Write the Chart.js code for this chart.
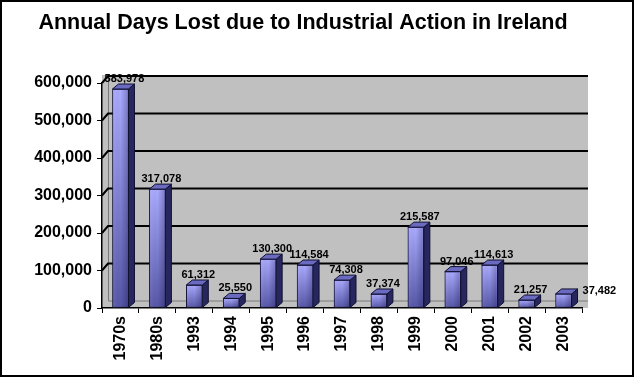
<!DOCTYPE html>
<html>
<head>
<meta charset="utf-8">
<script src="https://cdn.jsdelivr.net/npm/chart.js@4"></script>
<style>
html,body{margin:0;padding:0;background:#fff;}
#wrap{width:634px;height:377px;position:relative;}
</style>
</head>
<body>
<div id="wrap"><canvas id="c" width="634" height="377"></canvas></div>
<script>
const chartTitle = "Annual Days Lost due to Industrial Action in Ireland";
const categories = ["1970s","1980s","1993","1994","1995","1996","1997","1998","1999","2000","2001","2002","2003"];
const daysLost = [583978,317078,61312,25550,130300,114584,74308,37374,215587,97046,114613,21257,37482];
const yTicks = [0,100000,200000,300000,400000,500000,600000];

const DX = 6, DY = 5;       // 3D depth offsets
const WALL_DX = 6, WALL_DY = 7;
const FONT = '"Liberation Sans", Arial, sans-serif';

const fmt = v => v.toLocaleString('en-US');

const bgPlugin = {
  id: 'bg',
  beforeDraw(chart) {
    const {ctx, chartArea: a, scales} = chart;
    ctx.save();
    ctx.fillStyle = '#fff';
    ctx.fillRect(0, 0, chart.width, chart.height);
    ctx.fillStyle = '#C0C0C0';
    ctx.fillRect(a.left, a.top - WALL_DY - 1, a.right - a.left + WALL_DX, a.bottom - a.top + WALL_DY + 1);
    ctx.strokeStyle = '#7A7A7A';
    ctx.lineWidth = 1;
    ctx.beginPath();
    ctx.moveTo(a.left + WALL_DX + 0.5, a.top - WALL_DY);
    ctx.lineTo(a.left + WALL_DX + 0.5, a.bottom - WALL_DY);
    ctx.lineTo(a.right + WALL_DX, a.bottom - WALL_DY);
    ctx.stroke();
    ctx.strokeStyle = '#000';
    ctx.lineWidth = 2;
    yTicks.forEach(v => {
      if (v === 0) return;
      const y = scales.y.getPixelForValue(v);
      ctx.beginPath();
      ctx.moveTo(a.left, y);
      ctx.lineTo(a.left + WALL_DX, y - WALL_DY);
      ctx.lineTo(a.right + WALL_DX, y - WALL_DY);
      ctx.stroke();
    });
    ctx.restore();
  }
};

const barPlugin = {
  id: 'bars3d',
  afterDatasetsDraw(chart) {
    const {ctx} = chart;
    const meta = chart.getDatasetMeta(0);
    ctx.save();
    meta.data.forEach((el, i) => {
      const w = el.width;
      const xl = el.x - w / 2, xr = el.x + w / 2;
      const top = el.y, base = el.base;
      const hg = ctx.createLinearGradient(xl, 0, xr, 0);
      hg.addColorStop(0, 'rgba(255,255,255,0.10)');
      hg.addColorStop(0.5, 'rgba(0,0,0,0)');
      hg.addColorStop(1, 'rgba(0,0,60,0.28)');
      ctx.fillStyle = hg;
      ctx.fillRect(xl + 1, top + 1, w - 2, base - top - 1);
      ctx.beginPath();
      ctx.moveTo(xr, top);
      ctx.lineTo(xr + DX, top - DY);
      ctx.lineTo(xr + DX, base - DY);
      ctx.lineTo(xr, base);
      ctx.closePath();
      ctx.fillStyle = '#27275E';
      ctx.fill();
      ctx.strokeStyle = '#0F0F30';
      ctx.lineWidth = 1;
      ctx.stroke();
      ctx.beginPath();
      ctx.moveTo(xl, top);
      ctx.lineTo(xl + DX, top - DY);
      ctx.lineTo(xr + DX, top - DY);
      ctx.lineTo(xr, top);
      ctx.closePath();
      ctx.fillStyle = '#6A6AC0';
      ctx.fill();
      ctx.stroke();
      ctx.fillStyle = '#000';
      ctx.font = 'bold 11px ' + FONT;
      const txt = fmt(daysLost[i]);
      if (i === meta.data.length - 1) {
        ctx.textAlign = 'left';
        ctx.textBaseline = 'middle';
        ctx.fillText(txt, xr + DX + 5, top - 3);
      } else {
        ctx.textAlign = 'center';
        ctx.textBaseline = 'alphabetic';
        ctx.fillText(txt, el.x + 4, top - 7);
      }
    });
    ctx.restore();
  },
  afterDraw(chart) {
    const {ctx} = chart;
    ctx.save();
    ctx.fillStyle = '#000';
    ctx.font = 'bold 21.5px ' + FONT;
    ctx.textAlign = 'center';
    ctx.textBaseline = 'middle';
    ctx.fillText(chartTitle, 303, 23);
    ctx.strokeStyle = '#000';
    ctx.lineWidth = 2;
    ctx.strokeRect(1, 1, chart.width - 2, chart.height - 2);
    ctx.restore();
  }
};

new Chart(document.getElementById('c'), {
  type: 'bar',
  data: {
    labels: categories,
    datasets: [{
      data: daysLost,
      barThickness: 16,
      borderColor: '#14143C',
      borderWidth: 1,
      borderSkipped: false,
      backgroundColor(ctx) {
        const chart = ctx.chart;
        const a = chart.chartArea;
        if (!a || !chart.scales.y) return '#8C8CE8';
        const yTop = chart.scales.y.getPixelForValue(ctx.raw);
        const yBase = chart.scales.y.getPixelForValue(0);
        if (!isFinite(yTop) || yBase - yTop < 1) return '#8C8CE8';
        const g = chart.ctx.createLinearGradient(0, yTop, 0, yBase);
        g.addColorStop(0, '#AAAAFF');
        g.addColorStop(1, '#5656A8');
        return g;
      }
    }]
  },
  options: {
    responsive: false,
    animation: false,
    devicePixelRatio: 1,
    layout: { padding: { top: 83, right: 52, left: 0, bottom: 0 } },
    plugins: { legend: { display: false }, title: { display: false }, tooltip: { enabled: false } },
    scales: {
      x: {
        grid: { drawOnChartArea: false, drawTicks: true, tickLength: 5, color: '#000', offset: true },
        border: { color: '#000', width: 1.5 },
        ticks: {
          color: '#000', font: { family: FONT, size: 16, weight: 'bold' },
          minRotation: 90, maxRotation: 90, padding: 3, autoSkip: false
        },
        afterFit(s) { s.height = 69; }
      },
      y: {
        min: 0, max: 600000,
        afterBuildTicks(s) { s.ticks = yTicks.map(v => ({ value: v })); },
        grid: { drawOnChartArea: false, drawTicks: true, tickLength: 5, color: '#000' },
        border: { color: '#000', width: 1.5 },
        ticks: {
          color: '#000', font: { family: FONT, size: 16, weight: 'bold' },
          padding: 5,
          callback: v => fmt(v)
        },
        afterFit(s) { s.width = 102; }
      }
    }
  },
  plugins: [bgPlugin, barPlugin]
});
</script>
</body>
</html>
